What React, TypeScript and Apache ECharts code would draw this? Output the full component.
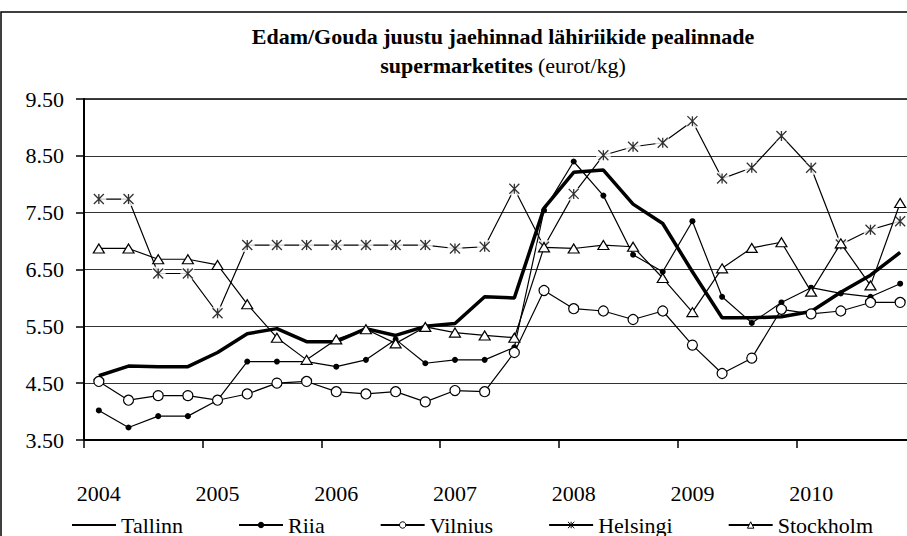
import React, { useEffect, useRef } from "react";
import * as echarts from "echarts";

const years = ["2004", "2005", "2006", "2007", "2008", "2009", "2010"];
const quarters = ["I", "II", "III", "IV"];
const categories: string[] = [];
years.forEach((y) => quarters.forEach((q) => categories.push(y + " " + q)));

const tallinn = [4.63, 4.8, 4.79, 4.79, 5.04, 5.37, 5.46, 5.23, 5.23, 5.46, 5.34, 5.5, 5.55, 6.02, 6.0, 7.58, 8.21, 8.25, 7.65, 7.31, 6.46, 5.65, 5.65, 5.67, 5.76, 6.1, 6.4, 6.8];
const riia = [4.02, 3.72, 3.92, 3.92, 4.2, 4.88, 4.88, 4.88, 4.79, 4.91, 5.27, 4.85, 4.91, 4.91, 5.13, 7.54, 8.4, 7.8, 6.76, 6.46, 7.35, 6.02, 5.56, 5.92, 6.18, 6.08, 6.02, 6.25];
const vilnius = [4.53, 4.2, 4.28, 4.28, 4.2, 4.31, 4.5, 4.53, 4.35, 4.31, 4.35, 4.17, 4.37, 4.35, 5.04, 6.13, 5.81, 5.77, 5.62, 5.77, 5.17, 4.67, 4.94, 5.8, 5.72, 5.77, 5.92, 5.92];
const helsingi = [7.74, 7.74, 6.43, 6.43, 5.73, 6.93, 6.93, 6.93, 6.93, 6.93, 6.93, 6.93, 6.87, 6.9, 7.92, 6.9, 7.83, 8.51, 8.66, 8.73, 9.11, 8.1, 8.29, 8.85, 8.29, 6.94, 7.2, 7.35];
const stockholm = [6.87, 6.87, 6.68, 6.68, 6.58, 5.89, 5.3, 4.91, 5.27, 5.45, 5.2, 5.49, 5.39, 5.34, 5.3, 6.89, 6.87, 6.93, 6.9, 6.35, 5.75, 6.52, 6.88, 6.98, 6.11, 6.96, 6.22, 7.67];

const yMin = 3.5;
const yMax = 9.5;
const yStep = 1;

const titleLine1 = "Edam/Gouda juustu jaehinnad lähiriikide pealinnade";
const titleLine2Bold = "supermarketites";
const titleLine2Normal = "(eurot/kg)";

const SERIF = "'Liberation Serif', 'Times New Roman', serif";
const STAR = "path://M0,0L10,10M10,0L0,10M5,0L5,10";
const CHART_W = 1006;
const CHART_H = 536;

export default function App() {
  const ref = useRef<HTMLDivElement>(null);
  useEffect(() => {
    document.body.style.margin = "0";
    const chart = echarts.init(ref.current!, null, { renderer: "svg" });
    const lineBase = { type: "line", symbolKeepAspect: false, emphasis: { disabled: true } };
    const option: any = {
      animation: false,
      backgroundColor: "#fff",
      title: {
        left: "center",
        top: 17,
        text: `{b|${titleLine1}}\n{b|${titleLine2Bold}} {n|${titleLine2Normal}}`,
        textStyle: {
          rich: {
            b: { fontFamily: SERIF, fontWeight: "bold", fontSize: 22, lineHeight: 29, color: "#000" },
            n: { fontFamily: SERIF, fontWeight: "normal", fontSize: 22, lineHeight: 29, color: "#000" },
          },
        },
      },
      legend: {
        left: 66,
        top: 509,
        itemWidth: 44,
        itemHeight: 8,
        itemGap: 55,
        data: [
          { name: "Tallinn", itemStyle: { color: "rgba(0,0,0,0)", borderColor: "rgba(0,0,0,0)", borderWidth: 0 } },
          "Riia",
          "Vilnius",
          "Helsingi",
          "Stockholm",
        ],
        textStyle: { fontFamily: SERIF, fontSize: 22, color: "#000" },
        itemStyle: { borderWidth: 1 },
      },
      graphic: [
        {
          type: "rect",
          shape: { x: 1, y: 12, width: CHART_W - 4, height: CHART_H + 10 },
          style: { fill: "none", stroke: "#000", lineWidth: 1.5 },
          silent: true,
        },
      ],
      grid: {
        left: 84,
        top: 99,
        right: CHART_W - 915,
        bottom: CHART_H - 440,
        show: true,
        borderColor: "#000",
        borderWidth: 1.5,
      },
      xAxis: {
        type: "category",
        data: categories,
        boundaryGap: true,
        axisLine: { lineStyle: { color: "#000", width: 2 } },
        axisTick: { show: true, interval: 3, length: 8, lineStyle: { color: "#000", width: 1.5 } },
        axisLabel: {
          interval: 3,
          margin: 42,
          fontFamily: SERIF,
          fontSize: 22,
          color: "#000",
          formatter: (v: string) => v.split(" ")[0],
        },
        splitLine: { show: false },
      },
      yAxis: {
        type: "value",
        min: yMin,
        max: yMax,
        interval: yStep,
        axisLine: { show: true, lineStyle: { color: "#000", width: 2 } },
        axisTick: { show: true, length: 8, lineStyle: { color: "#000", width: 1.5 } },
        axisLabel: {
          margin: 20,
          fontFamily: SERIF,
          fontSize: 22,
          color: "#000",
          formatter: (v: number) => v.toFixed(2),
        },
        splitLine: { show: true, lineStyle: { color: "#333", width: 1 } },
      },
      series: [
        {
          ...lineBase,
          name: "Tallinn",
          data: tallinn,
          symbol: "circle",
          showSymbol: false,
          lineStyle: { color: "#000", width: 3.5 },
          itemStyle: { color: "rgba(0,0,0,0)", borderColor: "rgba(0,0,0,0)" },
          z: 2,
        },
        {
          ...lineBase,
          name: "Riia",
          data: riia,
          symbol: "circle",
          symbolSize: 6,
          lineStyle: { color: "#000", width: 1.2 },
          itemStyle: { color: "#000" },
          z: 3,
        },
        {
          ...lineBase,
          name: "Vilnius",
          data: vilnius,
          symbol: "circle",
          symbolSize: 10,
          lineStyle: { color: "#000", width: 1.2 },
          itemStyle: { color: "#fff", borderColor: "#000", borderWidth: 1.2 },
          z: 4,
        },
        {
          ...lineBase,
          name: "Helsingi",
          data: helsingi,
          symbol: STAR,
          symbolSize: 10,
          showSymbol: false,
          lineStyle: { color: "#000", width: 1.2 },
          itemStyle: { color: "#000", borderColor: "#000", borderWidth: 1.2 },
          z: 5,
        },
        {
          type: "scatter",
          name: "hb",
          data: helsingi,
          symbol: "circle",
          symbolSize: 15,
          itemStyle: { color: "#fff" },
          silent: true,
          z: 6,
        },
        {
          type: "scatter",
          name: "hs",
          data: helsingi,
          symbol: STAR,
          symbolSize: 10,
          itemStyle: { color: "#000", borderColor: "#000", borderWidth: 1.3 },
          silent: true,
          z: 7,
        },
        {
          ...lineBase,
          name: "Stockholm",
          data: stockholm,
          symbol: "triangle",
          symbolSize: [11, 9],
          lineStyle: { color: "#000", width: 1.2 },
          itemStyle: { color: "#fff", borderColor: "#000", borderWidth: 1.2 },
          z: 8,
        },
      ],
    };
    chart.setOption(option);
    return () => chart.dispose();
  }, []);
  return (
    <div style={{ position: "absolute", left: 0, top: 0, width: 907, height: 536, overflow: "hidden", background: "#fff" }}>
      <div ref={ref} style={{ width: CHART_W, height: CHART_H }} />
    </div>
  );
}
